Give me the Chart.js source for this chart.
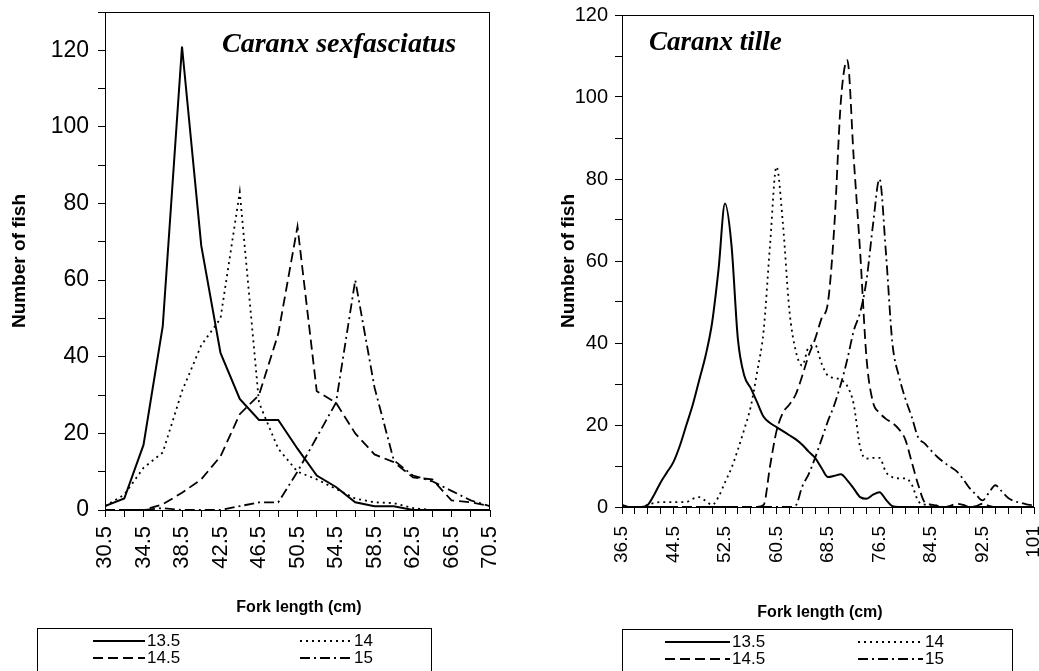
<!DOCTYPE html>
<html>
<head>
<meta charset="utf-8">
<script src="https://cdn.jsdelivr.net/npm/chart.js@4.4.1/dist/chart.umd.min.js"></script>
<style>
  body { margin: 0; background: #fff; }
  #wrap { position: relative; width: 1039px; height: 671px; overflow: hidden; }
  canvas { position: absolute; top: 0; }
</style>
</head>
<body>
<div id="wrap">
  <canvas id="left" width="519" height="671" style="left:0"></canvas>
  <canvas id="right" width="520" height="671" style="left:519px"></canvas>
</div>
<script>
// fork length classes (cm)
const lengthsL = [30.5, 32.5, 34.5, 36.5, 38.5, 40.5, 42.5, 44.5, 46.5, 48.5, 50.5,
                  52.5, 54.5, 56.5, 58.5, 60.5, 62.5, 64.5, 66.5, 68.5, 70.5];
const lengthsR = [36.5, 37.5, 38.5, 39.5, 40.5, 41.5, 42.5, 43.5, 44.5, 45.5, 46.5, 47.5, 48.5,
                  49.5, 50.5, 51.5, 52.5, 53.5, 54.5, 55.5, 56.5, 57.5, 58.5, 59.5, 60.5, 61.5,
                  62.5, 63.5, 64.5, 65.5, 66.5, 67.5, 68.5, 69.5, 70.5, 71.5, 72.5, 73.5, 74.5,
                  75.5, 76.5, 77.5, 78.5, 79.5, 80.5, 81.5, 82.5, 83.5, 84.5, 85.5, 86.5, 87.5,
                  88.5, 89.5, 90.5, 91.5, 92.5, 93.5, 94.5, 95.5, 96.5, 97.5, 98.5, 99.5, 100.5];

const seriesNames = ['13.5', '14', '14.5', '15'];

// Caranx sexfasciatus
const sex135 = [1, 3, 17, 48, 121, 69, 41, 29, 23.5, 23.5, 16, 9, 6, 2, 1, 1, 0, 0, 0, 0, 0];
const sex14  = [1, 4, 11, 15, 31, 43, 50, 83, 28, 16, 10, 8, 5.5, 3, 2, 1.8, 0.5, 0, 0, 0, 0];
const sex145 = [0, 0, 0, 1.5, 4.5, 8, 14, 25, 30, 46, 74, 31, 28, 20, 14.5, 12.5, 8.5, 8, 2.5, 2, 1];
const sex15  = [0, 0, 0, 0.5, 0, 0, 0, 1, 2, 2, 10, 19, 28, 60, 32, 13, 9, 7.5, 5, 2.5, 1];

// Caranx tille
const til135 = [0.5, 0, 0, 0, 0.5, 3, 6, 8.5, 11, 15, 20, 25, 31, 37, 45, 58, 74, 64, 41, 32, 29,
                25.5, 22, 20.5, 19.5, 18.5, 17.5, 16.5, 15.2, 13.5, 12, 9.5, 7.3, 7.6, 8, 6.5, 4.5,
                2.4, 2, 3, 3.6, 1.8, 0.2, 0, 0, 0, 0, 0, 0, 0, 0, 0, 0, 0, 0, 0, 0, 0, 0, 0, 0, 0,
                0, 0, 0];
const til14  = [0, 0, 0, 0, 0.5, 1, 1.2, 1.2, 1.2, 1.2, 1.2, 2, 2.4, 1.5, 0.5, 2.5, 6, 9.5, 14, 19,
                24.5, 33, 43, 64, 83, 69, 48, 38, 34.5, 39, 39.5, 35, 32, 31.5, 31, 29.5, 25, 14.5,
                11.8, 12, 12, 8.5, 7.3, 7, 7, 5.5, 1.5, 0.6, 0.5, 0.3, 0, 0, 0, 0, 0, 0, 0, 0, 0,
                0, 0, 0, 0, 0, 0];
const til145 = [0, 0, 0, 0, 0, 0, 0, 0, 0, 0, 0, 0, 0, 0, 0, 0, 0, 0, 0, 0, 0, 0, 0.5, 10, 18.5,
                23, 25, 27.5, 32, 37, 41, 46, 50, 69, 99, 109, 85, 62, 36, 25.5, 23, 21.5, 20.5, 19,
                16.5, 11, 5.5, 1.2, 0.6, 0.3, 0, 0.3, 0.8, 0.5, 0, 0.2, 0.8, 0.3, 0, 0, 0, 0, 0, 0, 0];
const til15  = [0, 0, 0, 0, 0, 0, 0, 0, 0, 0, 0, 0, 0, 0, 0, 0, 0, 0, 0, 0, 0, 0, 0, 0, 0, 0, 0,
                0.4, 5, 8, 12, 16.5, 21, 25, 30, 36, 43, 47.5, 55.5, 69, 80, 62, 40, 32, 26.5, 22,
                17, 15.5, 13.8, 12.2, 10.9, 9.8, 8.7, 6.8, 4.6, 3, 1.6, 3.5, 5.3, 3.8, 2.2, 1.4, 1,
                0.6, 0.4];

const dashes = [[], [2, 4], [10, 5], [10, 4, 2, 4]];
const SANS = "Arial, 'Liberation Sans', sans-serif";

function makeSets(xs, ys, smooth) {
  return ys.map((vals, i) => ({
    label: seriesNames[i],
    data: xs.map((x, j) => ({ x: x, y: vals[j] })),
    borderColor: '#000',
    borderWidth: i === 0 ? 2 : 1.8,
    borderDash: dashes[i],
    pointRadius: 0,
    fill: false,
    tension: 0,
    cubicInterpolationMode: smooth ? 'monotone' : 'default'
  }));
}

// frame, species name, x title and legend box
const extras = {
  id: 'extras',
  afterDraw(chart, args, o) {
    const ctx = chart.ctx, a = chart.chartArea;
    ctx.save();
    ctx.strokeStyle = '#000';
    ctx.lineWidth = 1;
    ctx.strokeRect(a.left + 0.5, a.top + 0.5, a.right - a.left - 1, a.bottom - a.top);

    ctx.fillStyle = '#000';
    ctx.font = o.titleFont;
    ctx.textBaseline = 'alphabetic';
    ctx.fillText(o.title, o.titleX, o.titleY);

    ctx.font = 'bold 16px ' + SANS;
    ctx.textAlign = 'center';
    ctx.fillText('Fork length (cm)', o.xTitleX, o.xTitleY);

    const L = o.legend;
    ctx.strokeRect(L.x + 0.5, L.y + 0.5, L.w, 60);
    ctx.font = '17px ' + SANS;
    ctx.textAlign = 'left';
    ctx.textBaseline = 'middle';
    chart.data.datasets.forEach((ds, i) => {
      const x0 = L.cols[i % 2], y0 = L.rows[Math.floor(i / 2)];
      ctx.beginPath();
      ctx.setLineDash(ds.borderDash);
      ctx.lineWidth = ds.borderWidth;
      ctx.moveTo(x0, y0);
      ctx.lineTo(x0 + L.len, y0);
      ctx.stroke();
      ctx.setLineDash([]);
      ctx.fillText(ds.label, x0 + L.len + 2, y0);
    });
    ctx.restore();
  }
};

function axisOpts(cfg) {
  return {
    x: {
      type: 'linear',
      min: cfg.xmin, max: cfg.xmax,
      border: { color: '#000', width: 1 },
      grid: { drawOnChartArea: false, drawTicks: true, tickLength: 7, tickColor: '#000' },
      ticks: {
        stepSize: 2, autoSkip: false, maxRotation: 90, minRotation: 90,
        padding: cfg.xPad, color: '#000',
        font: { family: SANS, size: cfg.xFont },
        callback: v => {
          const k = Math.round((v - cfg.xmin) / 2);
          if (k % cfg.labelEvery !== 0) return '';
          return v > 100 ? '101' : v.toFixed(1);
        }
      },
      afterFit: s => { s.height = cfg.xHeight; s.paddingLeft = 0; s.paddingRight = 0; }
    },
    y: {
      min: 0, max: cfg.ymax,
      border: { color: '#000', width: 1 },
      grid: { drawOnChartArea: false, drawTicks: true, tickLength: 7, tickColor: '#000' },
      ticks: {
        stepSize: 10, autoSkip: false, padding: cfg.yPad, color: '#000',
        font: { family: SANS, size: cfg.yFont },
        callback: v => (v % 20 === 0 && v <= 120) ? String(v) : ''
      },
      title: {
        display: true, text: 'Number of fish', color: '#000',
        font: { family: SANS, size: 19, weight: 'bold' },
        padding: { top: cfg.yTitlePad, bottom: 0 }
      },
      afterFit: s => { s.width = cfg.yWidth; s.paddingTop = 0; s.paddingBottom = 0; }
    }
  };
}

new Chart(document.getElementById('left'), {
  type: 'line',
  data: { datasets: makeSets(lengthsL, [sex135, sex14, sex145, sex15], false) },
  options: {
    responsive: false, animation: false,
    layout: { padding: { top: 12, right: 29, left: 0, bottom: 0 } },
    plugins: {
      legend: { display: false }, tooltip: { enabled: false },
      extras: {
        title: 'Caranx sexfasciatus', titleFont: 'italic bold 28px "Liberation Serif", "Times New Roman", serif',
        titleX: 222, titleY: 52, xTitleX: 299, xTitleY: 612,
        legend: { x: 37, y: 628, w: 394, len: 52, cols: [93, 300], rows: [641, 658] }
      }
    },
    scales: axisOpts({ xmin: 30.5, xmax: 70.5, ymax: 130, xFont: 22, yFont: 23, xPad: 9, yPad: 9,
                       xHeight: 161, yWidth: 105, yTitlePad: 8, labelEvery: 2 })
  },
  plugins: [extras]
});

new Chart(document.getElementById('right'), {
  type: 'line',
  data: { datasets: makeSets(lengthsR, [til135, til14, til145, til15], true) },
  options: {
    responsive: false, animation: false,
    layout: { padding: { top: 15, right: 5, left: 0, bottom: 0 } },
    plugins: {
      legend: { display: false }, tooltip: { enabled: false },
      extras: {
        title: 'Caranx tille', titleFont: 'italic bold 27px "Liberation Serif", "Times New Roman", serif',
        titleX: 130, titleY: 50, xTitleX: 301, xTitleY: 617,
        legend: { x: 103, y: 629, w: 390, len: 65, cols: [146, 339], rows: [642, 659] }
      }
    },
    scales: axisOpts({ xmin: 36.5, xmax: 100.5, ymax: 120, xFont: 19, yFont: 20, xPad: 12, yPad: 7,
                       xHeight: 164, yWidth: 103, yTitlePad: 38, labelEvery: 4 })
  },
  plugins: [extras]
});
</script>
</body>
</html>
